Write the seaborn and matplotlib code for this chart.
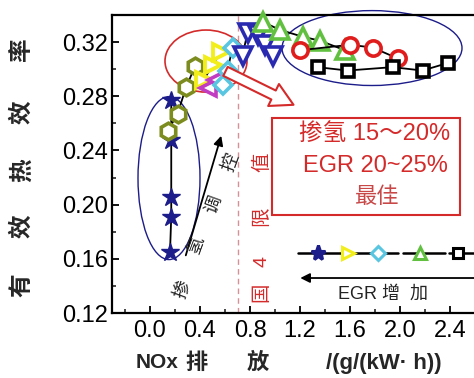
import matplotlib
matplotlib.use("Agg")
import matplotlib.pyplot as plt
import seaborn as sns
from matplotlib.patches import Ellipse, Rectangle, FancyArrowPatch
from matplotlib.ticker import MultipleLocator, FormatStrFormatter

# NOx emission (g/(kW·h)) and effective thermal efficiency per operating series
star_nox = [0.16, 0.17, 0.17, 0.17, 0.17]
star_eff = [0.165, 0.191, 0.206, 0.248, 0.277]
hex_nox = [0.14, 0.22, 0.29, 0.36]
hex_eff = [0.254, 0.267, 0.287, 0.302]
yellow_nox = [0.43, 0.50, 0.57]
yellow_eff = [0.292, 0.303, 0.313]
magenta_nox = [0.46, 0.53]
magenta_eff = [0.286, 0.292]
cyan_nox = [0.58, 0.62, 0.66]
cyan_eff = [0.288, 0.299, 0.316]
vtri_nox = [0.74, 0.78, 0.86, 0.92, 0.98]
vtri_eff = [0.310, 0.327, 0.325, 0.318, 0.310]
green_nox = [0.90, 1.04, 1.22, 1.36, 1.56]
green_eff = [0.335, 0.329, 0.324, 0.321, 0.314]
red_nox = [1.20, 1.60, 1.78, 1.98]
red_eff = [0.314, 0.318, 0.316, 0.308]
black_nox = [1.34, 1.58, 1.94, 2.18, 2.38]
black_eff = [0.3015, 0.299, 0.3015, 0.299, 0.3045]

x_ticks = [0.0, 0.4, 0.8, 1.2, 1.6, 2.0, 2.4]
y_ticks = [0.12, 0.16, 0.20, 0.24, 0.28, 0.32]

NAVY = "#1c1c8a"
RED = "#d42a2a"

sns.set_style("ticks")
plt.rcParams["font.family"] = ["Liberation Sans", "Noto Sans CJK SC"]

W, H = 474, 378
fig = plt.figure(figsize=(W / 100, H / 100), dpi=100)


def fx(px):
    return px / W


def fy(py):
    return 1 - py / H


def vy(py):
    # vertical pixel row -> efficiency value
    return 0.32 - (py - 42) / 1355


ax = fig.add_axes([fx(112), fy(313), fx(480) - fx(112), fy(15) - fy(313)])
ax.set_xlim(-0.304, 2.64)
ax.set_ylim(0.12, 0.34)

series = [
    (star_nox, star_eff, "*", 13.5, NAVY, NAVY, 1.0),
    (hex_nox, hex_eff, "h", 12, "white", "#7d8c1e", 2.6),
    (yellow_nox, yellow_eff, ">", 12, "white", "#f2ee1c", 2.8),
    (magenta_nox, magenta_eff, "<", 11, "white", "#c23cc2", 2.6),
    (cyan_nox, cyan_eff, "D", 9, "white", "#58c6e0", 2.6),
    (vtri_nox, vtri_eff, "v", 12.5, "white", "#2a2ab0", 2.6),
    (green_nox, green_eff, "^", 12.5, "white", "#62c040", 2.6),
    (red_nox, red_eff, "o", 11, "white", "#e01c1c", 2.6),
    (black_nox, black_eff, "s", 8.5, "white", "black", 2.6),
]
for xs, ys, mk, ms, fc, ec, mew in series:
    sns.lineplot(x=xs, y=ys, ax=ax, estimator=None, sort=False,
                 color="black", linewidth=1.3, marker=mk, markersize=ms,
                 markerfacecolor=fc, markeredgecolor=ec, markeredgewidth=mew,
                 legend=False, zorder=3, clip_on=False)

# China IV limit
ax.axvline(0.70, color="#d89098", linestyle=(0, (4, 3)), linewidth=1.0, zorder=1)

# grouping ellipses
ax.add_patch(Ellipse((0.152, 0.2196), 0.496, 0.1203, fill=False,
                     edgecolor=NAVY, linewidth=1.0, zorder=2))
ax.add_patch(Ellipse((0.448, 0.306), 0.656, 0.0458, fill=False,
                     edgecolor=RED, linewidth=1.2, zorder=2))
ax.add_patch(Ellipse((1.776, 0.3156), 1.44, 0.0553, fill=False,
                     edgecolor=NAVY, linewidth=1.0, zorder=2, clip_on=False))

# hollow arrow to the optimum box
ax.add_patch(FancyArrowPatch((0.584, 0.2993), (1.168, 0.2728),
                             arrowstyle="simple,head_length=1.0,head_width=1.1,tail_width=0.45",
                             mutation_scale=16, facecolor="white",
                             edgecolor=RED, linewidth=1.5, zorder=4))

# optimum box
ax.add_patch(Rectangle((0.976, vy(215)), 2.48 - 0.976, vy(118) - vy(215),
                       fill=False, edgecolor=RED, linewidth=1.5, zorder=2))
ax.text(1.80, vy(134), "掺氢 15～20%", color=RED, fontsize=17,
        ha="center", va="center")
ax.text(1.80, vy(166), "EGR 20~25%", color=RED, fontsize=17,
        ha="center", va="center")
ax.text(1.82, vy(197), "最佳", color="#c84848", fontsize=16,
        ha="center", va="center")

# hydrogen blending direction arrow
ax.annotate("", xy=(0.576, 0.2528), xytext=(0.28, 0.1606),
            arrowprops=dict(arrowstyle="-|>", color="black", lw=1.3,
                            mutation_scale=14))
for ch, px, py in [("掺", 183, 290), ("氢", 197, 245), ("调", 214, 205), ("控", 231, 163)]:
    ax.text((px - 150) / 125, vy(py), ch, fontsize=13,
            rotation=70, ha="center", va="center", color="#222222")

# China IV label
for ch, py in [("值", 162), ("限", 216), ("4", 261), ("国", 292)]:
    ax.text(0.896, vy(py), ch, fontsize=14, rotation=90,
            ha="center", va="center", color=RED)

# EGR key line
key_y = vy(253)
for x0, x1 in [(1.18, 1.98), (2.02, 2.36), (2.39, 2.62)]:
    ax.plot([x0, x1], [key_y, key_y], color="black", lw=1.8, clip_on=False, zorder=3)
for kx, mk, ms, fc, ec in [(1.34, "*", 11, NAVY, NAVY), (1.58, ">", 9, "white", "#f2ee1c"),
                           (1.82, "D", 7, "white", "#58c6e0"), (2.16, "^", 9, "white", "#62c040"),
                           (2.46, "s", 7, "white", "black")]:
    ax.plot([kx], [key_y], marker=mk, ms=ms, mfc=fc, mec=ec, mew=2.2,
            clip_on=False, zorder=4)
ax.annotate("", xy=(1.18, vy(278)), xytext=(2.66, vy(278)),
            arrowprops=dict(arrowstyle="-|>", color="black", lw=1.3,
                            mutation_scale=14), annotation_clip=False)
ax.text(1.86, vy(294), "EGR 增  加", fontsize=13, ha="center", va="center",
        color="#222222")

# axes styling
ax.xaxis.set_minor_locator(MultipleLocator(0.2))
ax.yaxis.set_minor_locator(MultipleLocator(0.02))
ax.set_xticks(x_ticks)
ax.set_yticks(y_ticks)
ax.xaxis.set_major_formatter(FormatStrFormatter("%.1f"))
ax.yaxis.set_major_formatter(FormatStrFormatter("%.2f"))
ax.tick_params(which="major", direction="in", length=5, width=1.3,
               labelsize=17, colors="black", top=False, right=False)
ax.tick_params(which="minor", direction="in", length=3, width=1.2,
               top=False, right=False)
ax.tick_params(axis="x", pad=5)
ax.tick_params(axis="y", pad=3)
for side in ["left", "bottom", "top"]:
    ax.spines[side].set_linewidth(1.6)
    ax.spines[side].set_color("black")
ax.spines["right"].set_visible(False)

# axis titles
for ch, py in [("率", 50), ("效", 112), ("热", 170), ("效", 226), ("有", 285)]:
    fig.text(fx(22), fy(py), ch, fontsize=17, fontweight="bold", rotation=90,
             ha="center", va="center")
for s, px, size in [("NOx", 157, 15), ("排", 196, 16), ("放", 258, 16),
                    ("/(g/(kW· h))", 384, 16)]:
    fig.text(fx(px), fy(363), s, fontsize=size, fontweight="bold",
             ha="center", va="center")

fig.savefig("out.png", dpi=100)
